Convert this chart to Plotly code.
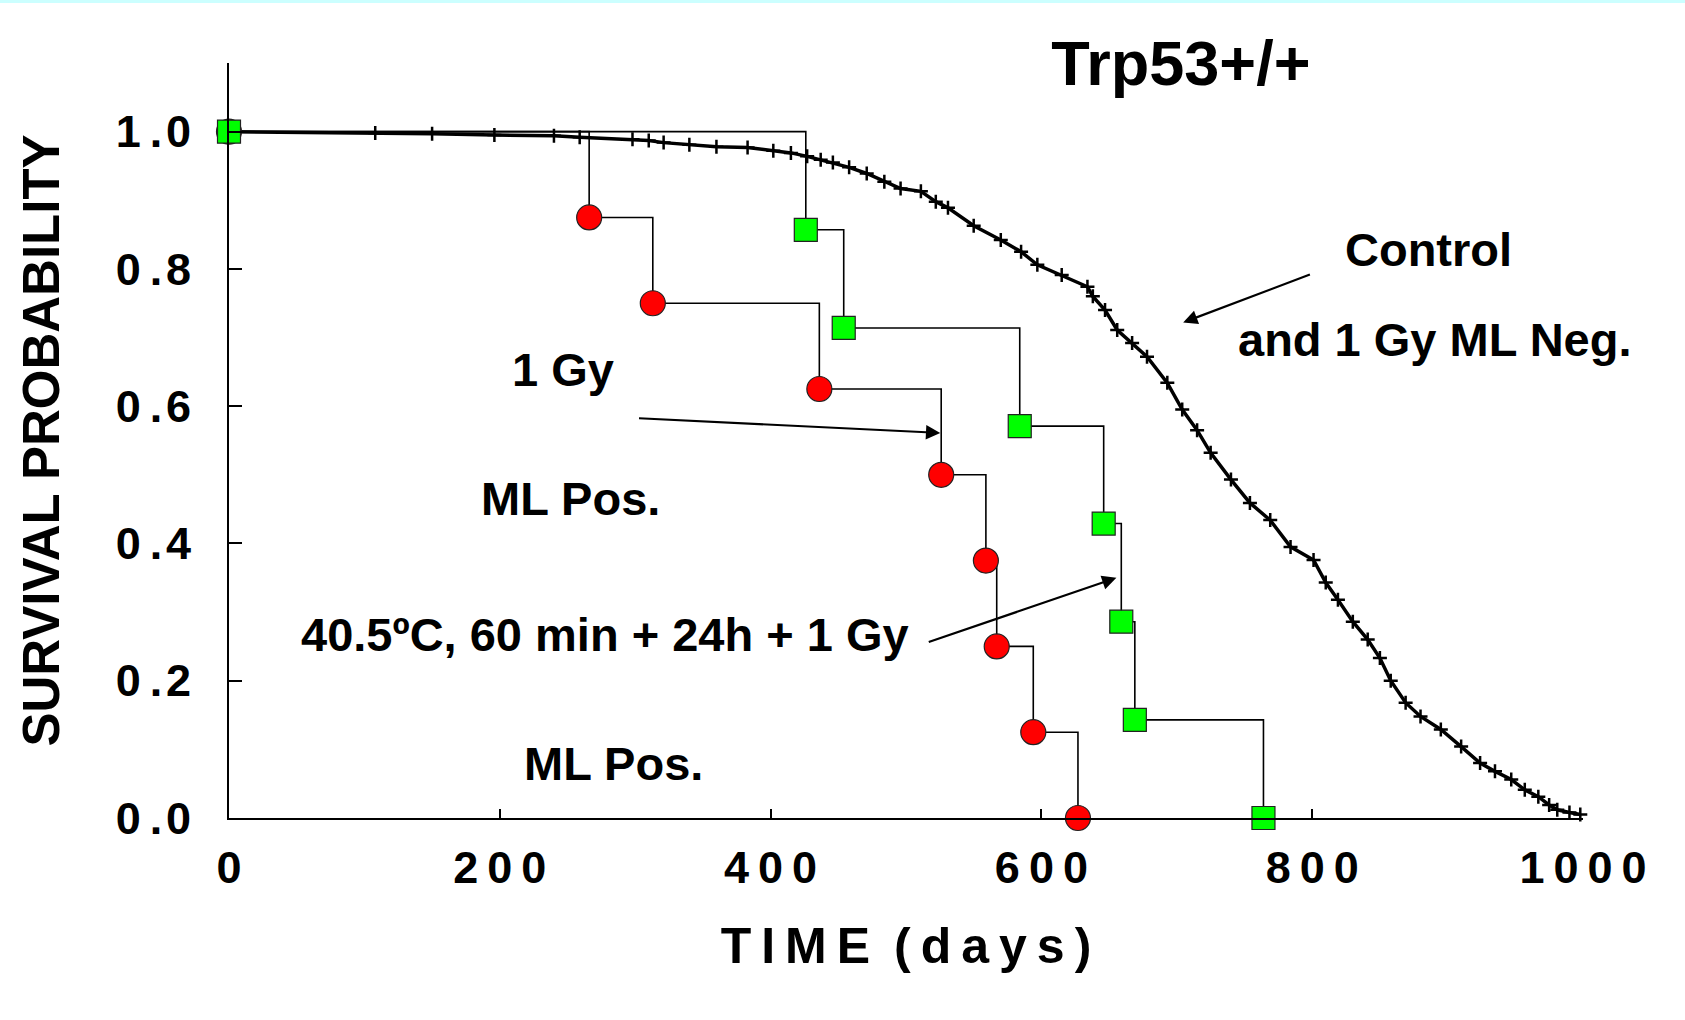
import plotly.graph_objects as go

# ---------------- data ----------------
# Control and 1 Gy ML Neg. (Kaplan-Meier estimate)
control_days = [0, 108, 150, 196, 240, 259, 298, 310, 321, 340, 360, 383, 402, 415, 427,
                437, 446, 458, 471, 484, 496, 511, 522, 531, 550, 570, 585, 597, 615, 634,
                638, 647, 656, 667, 678, 693, 704, 715, 725, 740, 754, 769, 784, 801, 810,
                819, 830, 841, 850, 858, 869, 880, 895, 910, 924, 935, 947, 957, 967, 975,
                981, 990, 998]
control_surv = [1.0, 0.998, 0.997, 0.995, 0.994, 0.992, 0.989, 0.987, 0.984, 0.981, 0.978,
                0.977, 0.972, 0.969, 0.964, 0.959, 0.955, 0.948, 0.939, 0.927, 0.917, 0.913,
                0.898, 0.889, 0.863, 0.842, 0.825, 0.806, 0.791, 0.774, 0.760, 0.740, 0.711,
                0.692, 0.672, 0.634, 0.595, 0.565, 0.532, 0.493, 0.459, 0.434, 0.395, 0.376,
                0.343, 0.318, 0.286, 0.260, 0.233, 0.200, 0.168, 0.148, 0.129, 0.104, 0.080,
                0.068, 0.056, 0.041, 0.031, 0.019, 0.012, 0.008, 0.005]

# 1 Gy, ML Pos. (red circles)
gy1_days = [0, 266, 313, 436, 526, 559, 567, 594, 627]
gy1_surv = [1.0, 0.875, 0.75, 0.625, 0.5, 0.375, 0.25, 0.125, 0.0]

# 40.5ºC, 60 min + 24h + 1 Gy, ML Pos. (green squares)
heat_days = [0, 426, 454, 584, 646, 659, 669, 764]
heat_surv = [1.0, 0.857, 0.714, 0.571, 0.429, 0.286, 0.143, 0.0]

TS = "\u2009"  # thin space used for the spaced-out labels
HS = "\u200a"  # hair space
x_tickvals = [0, 200, 400, 600, 800, 1000]
x_ticktext = ["0", TS.join("200"), TS.join("400"), TS.join("600"), TS.join("800"), TS.join("1000")]
y_tickvals = [0.0, 0.2, 0.4, 0.6, 0.8, 1.0]
y_ticktext = [f"{v:.1f}".replace(".", TS + "." + HS) for v in y_tickvals]

FONT = "Liberation Sans, Arial, sans-serif"

fig = go.Figure()

fig.add_trace(go.Scatter(
    x=control_days, y=control_surv, mode="lines+markers",
    line=dict(color="black", width=3.5),
    marker=dict(symbol="cross-thin", size=10, line=dict(color="black", width=2.5)),
    showlegend=False, cliponaxis=False, name="Control"))

fig.add_trace(go.Scatter(
    x=gy1_days, y=gy1_surv, mode="lines+markers",
    line=dict(color="black", width=1.6, shape="hv"),
    marker=dict(symbol="circle", size=25, color="#ff0000", line=dict(color="#222222", width=1.2)),
    showlegend=False, cliponaxis=False, name="1 Gy"))

fig.add_trace(go.Scatter(
    x=heat_days, y=heat_surv, mode="lines+markers",
    line=dict(color="black", width=1.6, shape="hv"),
    marker=dict(symbol="square", size=23, color="#00ff00", line=dict(color="#222222", width=1.2)),
    showlegend=False, cliponaxis=False, name="40.5ºC + 1 Gy"))

tf = dict(family=FONT, size=47, color="black", weight="bold")
annotations = [
    dict(text="Control", x=886, y=0.828, xanchor="center", yanchor="middle", showarrow=False, font=tf),
    dict(text="and 1 Gy ML Neg.", x=891, y=0.697, xanchor="center", yanchor="middle", showarrow=False, font=tf),
    dict(text="1 Gy", x=247, y=0.653, xanchor="center", yanchor="middle", showarrow=False, font=tf),
    dict(text="ML Pos.", x=252, y=0.466, xanchor="center", yanchor="middle", showarrow=False, font=tf),
    dict(text="40.5ºC, 60 min + 24h + 1 Gy", x=278, y=0.267, xanchor="center", yanchor="middle",
         showarrow=False, font=tf),
    dict(text="ML Pos.", x=284, y=0.080, xanchor="center", yanchor="middle", showarrow=False, font=tf),
]
arrow_common = dict(text="", showarrow=True, arrowhead=2, arrowsize=1.3, arrowwidth=2.2,
                    arrowcolor="black", axref="x", ayref="y", standoff=0)
annotations += [
    dict(x=525.3, y=0.561, ax=301.7, ay=0.5825, **arrow_common),
    dict(x=655.4, y=0.350, ax=515.7, ay=0.2556, **arrow_common),
    dict(x=704.7, y=0.722, ax=799.4, ay=0.7927, **arrow_common),
]

fig.update_layout(
    width=1685, height=1020,
    margin=dict(l=229, r=102, t=63, b=202),
    paper_bgcolor="white", plot_bgcolor="white",
    font=dict(family=FONT, color="black", weight="bold"),
    title=dict(text="Trp53+/+", x=0.703, xref="paper", xanchor="center",
               y=1 - 63.4 / 1020, yref="container", yanchor="middle",
               font=dict(family=FONT, size=63, color="black", weight="bold")),
    annotations=annotations,
    shapes=[dict(type="rect", xref="paper", yref="paper", x0=-0.2, x1=1.1,
                 y0=(818 - 3) / 755, y1=1.1, fillcolor="#ccffff", line=dict(width=0), layer="below")],
)

fig.update_xaxes(
    range=[0, 1000], showgrid=False, zeroline=False, showline=True, linecolor="black", linewidth=2,
    ticks="inside", ticklen=9, tickwidth=1.5, tickcolor="black",
    tickvals=x_tickvals, ticktext=x_ticktext, ticklabelstandoff=9,
    tickfont=dict(family=FONT, size=45, color="black", weight="bold"),
    title=dict(text=TS.join("TIME") + TS + " " + TS.join("(days)"), standoff=36,
               font=dict(family=FONT, size=50, color="black", weight="bold")))

fig.update_yaxes(
    range=[0, 1.1], showgrid=False, zeroline=False, showline=True, linecolor="black", linewidth=2,
    ticks="inside", ticklen=13, tickwidth=1.5, tickcolor="black",
    tickvals=y_tickvals, ticktext=y_ticktext, ticklabelstandoff=27,
    tickfont=dict(family=FONT, size=45, color="black", weight="bold"),
    title=dict(text="SURVIVAL PROBABILITY", standoff=40,
               font=dict(family=FONT, size=51, color="black", weight="bold")))

fig.write_html("out.html")
